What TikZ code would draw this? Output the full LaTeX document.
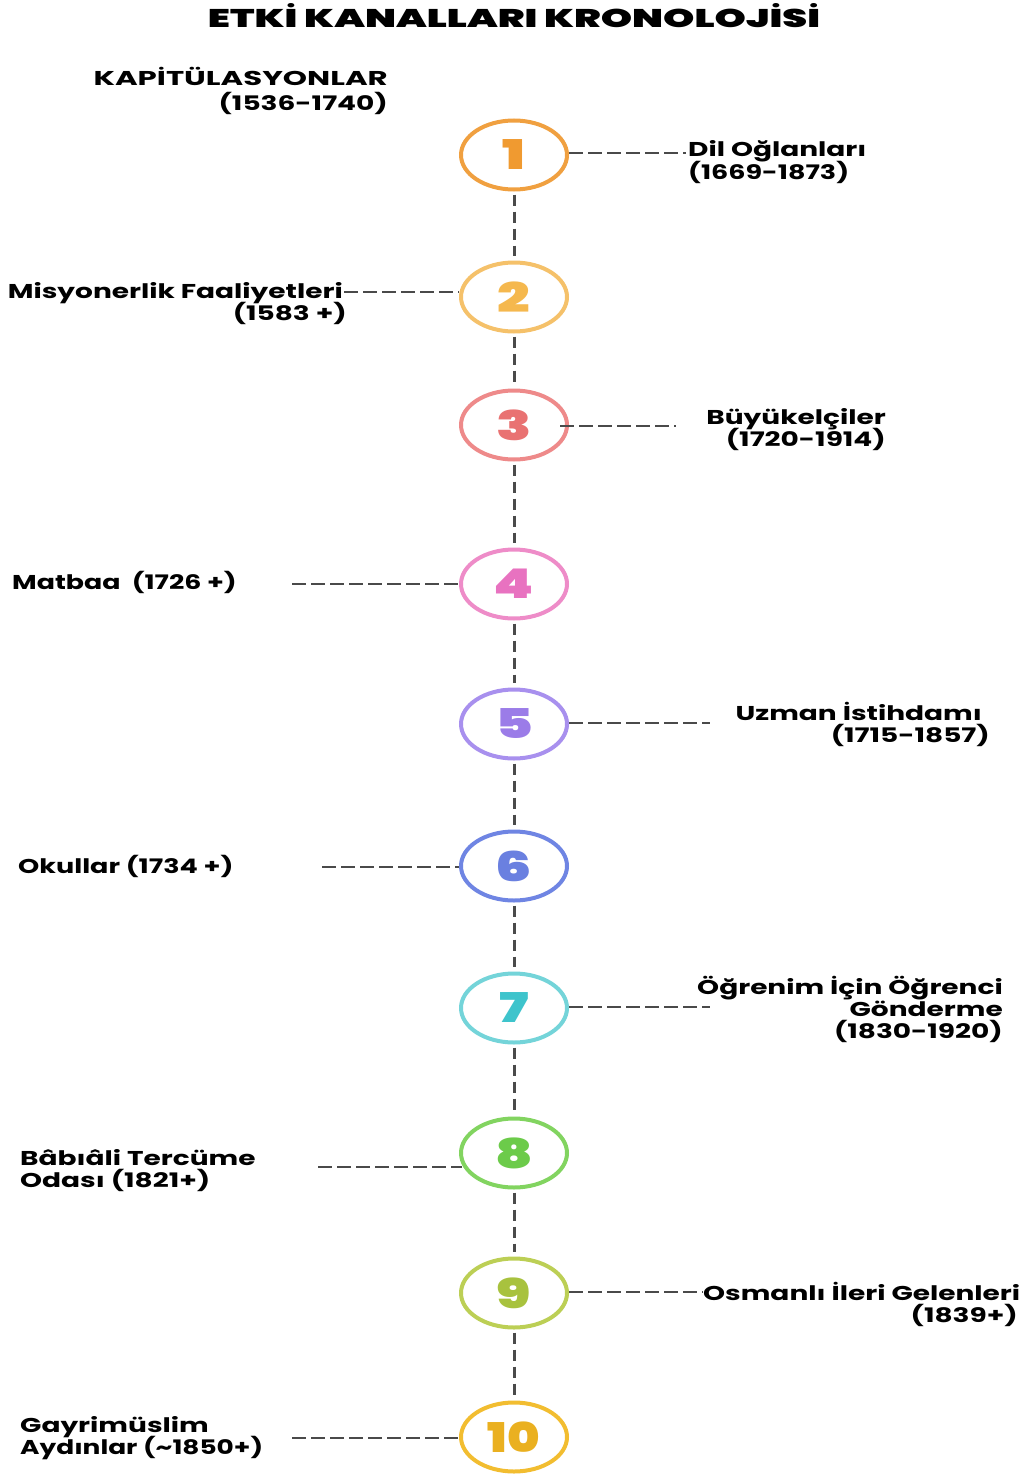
\documentclass[tikz,border=0pt]{standalone}
\usepackage{fontspec}
\setmainfont{Poppins}
\newfontfamily\numfont{Poppins Black}
\usetikzlibrary{shapes.geometric}
\definecolor{ring1}{HTML}{F0A040}\definecolor{num1}{HTML}{F09A30}
\definecolor{ring2}{HTML}{F5C16A}\definecolor{num2}{HTML}{F5B84E}
\definecolor{ring3}{HTML}{EE8A8A}\definecolor{num3}{HTML}{E97272}
\definecolor{ring4}{HTML}{EE8CC8}\definecolor{num4}{HTML}{E872C0}
\definecolor{ring5}{HTML}{A890EE}\definecolor{num5}{HTML}{9B7CE8}
\definecolor{ring6}{HTML}{6F85E3}\definecolor{num6}{HTML}{6A80E0}
\definecolor{ring7}{HTML}{74D4D9}\definecolor{num7}{HTML}{3EC4CC}
\definecolor{ring8}{HTML}{82D460}\definecolor{num8}{HTML}{6CCB4A}
\definecolor{ring9}{HTML}{BCCF55}\definecolor{num9}{HTML}{A8C23E}
\definecolor{ring10}{HTML}{F2BD30}\definecolor{num10}{HTML}{EAB020}
\definecolor{linegray}{HTML}{4A4A4A}
\newcommand\widetxt[1]{\scalebox{1.4}[1]{#1}}
\newcommand\numtxt[1]{\scalebox{1.4}[1]{#1}}
\tikzset{
  stage/.style={ellipse,draw=#1,line width=4pt,minimum width=106pt,minimum height=69pt,inner sep=0pt,
    font=\fontsize{41}{41}\selectfont\numfont},
  lbl/.style={inner sep=0pt,font=\fontsize{20}{22}\selectfont\bfseries,text=black},
  hline/.style={draw=linegray,line width=2.4pt,dash pattern=on 14pt off 5pt},
  vline/.style={draw=linegray,line width=3pt,dash pattern=on 11pt off 6pt,shorten <=3pt,shorten >=5pt},
}
\begin{document}
\begin{tikzpicture}[x=1pt,y=-1pt]
\useasboundingbox (0,0) rectangle (1030,1477);
\fill[white] (0,0) rectangle (1030,1477);
% title
\node[inner sep=0pt,anchor=base] (title) at (514,28) {\resizebox{612pt}{24pt}{\numfont ETKİ KANALLARI KRONOLOJİSİ}};
% stages
\node[stage=ring1,text=num1] (c1) at (514,155) {\numtxt{1}};
\node[stage=ring2,text=num2] (c2) at (514,297) {\numtxt{2}};
\node[stage=ring3,text=num3] (c3) at (514,425) {\numtxt{3}};
\node[stage=ring4,text=num4] (c4) at (514,584) {\numtxt{4}};
\node[stage=ring5,text=num5] (c5) at (514,724) {\numtxt{5}};
\node[stage=ring6,text=num6] (c6) at (514,866) {\numtxt{6}};
\node[stage=ring7,text=num7] (c7) at (514,1008) {\numtxt{7}};
\node[stage=ring8,text=num8] (c8) at (514,1153) {\numtxt{8}};
\node[stage=ring9,text=num9] (c9) at (514,1293) {\numtxt{9}};
\node[stage=ring10,text=num10] (c10) at (514,1437) {\scalebox{1.2}[1]{10}};
% vertical connectors
\foreach \a/\b in {c1/c2,c2/c3,c3/c4,c4/c5,c5/c6,c6/c7,c7/c8,c8/c9,c9/c10}
  \draw[vline] (\a.south) -- (\b.north);
% labels
\node[lbl,anchor=base east] (k0a) at (388,86) {\scalebox{1.54}[1]{KAPİTÜLASYONLAR}};
\node[lbl,anchor=base east] (k0b) at (388,111) {\widetxt{(1536-1740)}};
\node[lbl,anchor=base west] (l1a) at (688,157) {\widetxt{Dil Oğlanları}};
\node[lbl,anchor=base west] (l1b) at (688,179) {\scalebox{1.35}[1]{(1669-1873)}};
\node[lbl,anchor=base east] (l2a) at (343,298) {\widetxt{Misyonerlik Faaliyetleri}};
\node[lbl,anchor=base east] (l2b) at (347,320) {\widetxt{(1583 +)}};
\node[lbl,anchor=base east] (l3a) at (886,424) {\widetxt{Büyükelçiler}};
\node[lbl,anchor=base east] (l3b) at (886,446) {\widetxt{(1720-1914)}};
\node[lbl,anchor=base west] (l4) at (12,589) {\scalebox{1.34}[1]{Matbaa\ \ (1726 +)}};
\node[lbl,anchor=base east] (l5a) at (982,720) {\widetxt{Uzman İstihdamı}};
\node[lbl,anchor=base east] (l5b) at (990,742) {\widetxt{(1715-1857)}};
\node[lbl,anchor=base west] (l6) at (18,873) {\scalebox{1.35}[1]{Okullar (1734 +)}};
\node[lbl,anchor=base east] (l7a) at (1003,994) {\widetxt{Öğrenim İçin Öğrenci}};
\node[lbl,anchor=base east] (l7b) at (1003,1016) {\widetxt{Gönderme}};
\node[lbl,anchor=base east] (l7c) at (1003,1038) {\widetxt{(1830-1920)}};
\node[lbl,anchor=base west] (l8a) at (20,1165) {\widetxt{Bâbıâli Tercüme}};
\node[lbl,anchor=base west] (l8b) at (20,1187) {\widetxt{Odası (1821+)}};
\node[lbl,anchor=base west] (l9a) at (703,1300) {\widetxt{Osmanlı İleri Gelenleri}};
\node[lbl,anchor=base east] (l9b) at (1018,1322) {\widetxt{(1839+)}};
\node[lbl,anchor=base west] (l10a) at (20,1432) {\widetxt{Gayrimüslim}};
\node[lbl,anchor=base west] (l10b) at (20,1454) {\scalebox{1.32}[1]{Aydınlar (\textasciitilde 1850+)}};
% horizontal connector end points
\coordinate (e1) at (686,153);
\coordinate (e2) at (344,292);
\coordinate (e3) at (676,426);
\coordinate (e4) at (292,584);
\coordinate (e5) at (710,723);
\coordinate (e6) at (322,867);
\coordinate (e7) at (710,1007);
\coordinate (e8) at (318,1167);
\coordinate (e9) at (703,1292);
\coordinate (e10) at (292,1438);
\draw[hline] (e1 -| c1.east) -- (e1);
\draw[hline] (e2) -- (e2 -| c2.west);
\draw[hline] ([xshift=-9pt]e3 -| c3.east) -- (e3);
\draw[hline] (e4) -- (e4 -| c4.west);
\draw[hline] (e5 -| c5.east) -- (e5);
\draw[hline] (e6) -- (e6 -| c6.west);
\draw[hline] (e7 -| c7.east) -- (e7);
\draw[hline] (e8) -- ([xshift=3pt]e8 -| c8.west);
\draw[hline] (e9 -| c9.east) -- (e9);
\draw[hline] (e10) -- (e10 -| c10.west);
\end{tikzpicture}
\end{document}
